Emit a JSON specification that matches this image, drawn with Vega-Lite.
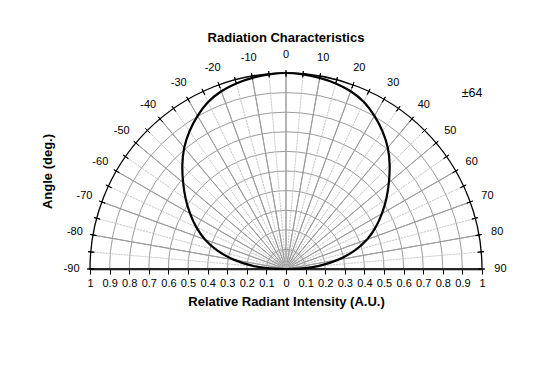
{
  "$schema": "https://vega.github.io/schema/vega-lite/v6.json",
  "width": 392,
  "height": 196,
  "autosize": {"type": "none"},
  "padding": {"left": 90, "top": 73, "right": 77, "bottom": 110},
  "background": "white",
  "config": {"view": {"stroke": null}, "font": "Liberation Sans"},
  "title": {"text": "Radiation Characteristics", "fontSize": 13, "fontWeight": "bold", "font": "Liberation Sans", "color": "black", "offset": 4},
  "datasets": {
    "rings": [{"r": 0.1}, {"r": 0.2}, {"r": 0.3}, {"r": 0.4}, {"r": 0.5}, {"r": 0.6}, {"r": 0.7}, {"r": 0.8}, {"r": 0.9}],
    "spokes": [{"a": -90}, {"a": -80}, {"a": -70}, {"a": -60}, {"a": -50}, {"a": -40}, {"a": -30}, {"a": -20}, {"a": -10}, {"a": 0}, {"a": 10}, {"a": 20}, {"a": 30}, {"a": 40}, {"a": 50}, {"a": 60}, {"a": 70}, {"a": 80}, {"a": 90}],
    "dots": [{"a": -85}, {"a": -75}, {"a": -65}, {"a": -55}, {"a": -45}, {"a": -35}, {"a": -25}, {"a": -15}, {"a": -5}, {"a": 5}, {"a": 15}, {"a": 25}, {"a": 35}, {"a": 45}, {"a": 55}, {"a": 65}, {"a": 75}, {"a": 85}],
    "ticks": [{"a": -90}, {"a": -85}, {"a": -80}, {"a": -75}, {"a": -70}, {"a": -65}, {"a": -60}, {"a": -55}, {"a": -50}, {"a": -45}, {"a": -40}, {"a": -35}, {"a": -30}, {"a": -25}, {"a": -20}, {"a": -15}, {"a": -10}, {"a": -5}, {"a": 0}, {"a": 5}, {"a": 10}, {"a": 15}, {"a": 20}, {"a": 25}, {"a": 30}, {"a": 35}, {"a": 40}, {"a": 45}, {"a": 50}, {"a": 55}, {"a": 60}, {"a": 65}, {"a": 70}, {"a": 75}, {"a": 80}, {"a": 85}, {"a": 90}],
    "labels": [{"a": -90, "t": "-90"}, {"a": -80, "t": "-80"}, {"a": -70, "t": "-70"}, {"a": -60, "t": "-60"}, {"a": -50, "t": "-50"}, {"a": -40, "t": "-40"}, {"a": -30, "t": "-30"}, {"a": -20, "t": "-20"}, {"a": -10, "t": "-10"}, {"a": 0, "t": "0"}, {"a": 10, "t": "10"}, {"a": 20, "t": "20"}, {"a": 30, "t": "30"}, {"a": 40, "t": "40"}, {"a": 50, "t": "50"}, {"a": 60, "t": "60"}, {"a": 70, "t": "70"}, {"a": 80, "t": "80"}, {"a": 90, "t": "90"}],
    "curve": [
      {"a": -90, "r": 0}, {"a": -87.5, "r": 0.1}, {"a": -85, "r": 0.165}, {"a": -80, "r": 0.268}, {"a": -75, "r": 0.362}, {"a": -70, "r": 0.44}, {"a": -65, "r": 0.505}, {"a": -60, "r": 0.565}, {"a": -55, "r": 0.625}, {"a": -50, "r": 0.685}, {"a": -45, "r": 0.748}, {"a": -40, "r": 0.808}, {"a": -35, "r": 0.858}, {"a": -30, "r": 0.902}, {"a": -25, "r": 0.94}, {"a": -20, "r": 0.965}, {"a": -15, "r": 0.98}, {"a": -10, "r": 0.99}, {"a": -5, "r": 0.997}, {"a": 0, "r": 1.0},
      {"a": 5, "r": 0.997}, {"a": 10, "r": 0.99}, {"a": 15, "r": 0.98}, {"a": 20, "r": 0.965}, {"a": 25, "r": 0.94}, {"a": 30, "r": 0.902}, {"a": 35, "r": 0.858}, {"a": 40, "r": 0.808}, {"a": 45, "r": 0.748}, {"a": 50, "r": 0.685}, {"a": 55, "r": 0.625}, {"a": 60, "r": 0.565}, {"a": 65, "r": 0.505}, {"a": 70, "r": 0.44}, {"a": 75, "r": 0.362}, {"a": 80, "r": 0.268}, {"a": 85, "r": 0.165}, {"a": 87.5, "r": 0.1}, {"a": 90, "r": 0}
    ]
  },
  "layer": [
    {
      "data": {"name": "rings"},
      "mark": {"type": "arc", "y": "height", "filled": false, "fill": null, "stroke": "#9c9c9c", "strokeWidth": 1},
      "encoding": {
        "theta": {"datum": -90, "type": "quantitative", "scale": {"type": "linear", "domain": [-90, 90], "range": [-1.5707963267948966, 1.5707963267948966], "zero": false, "nice": false}},
        "theta2": {"datum": 90},
        "radius": {"field": "r", "type": "quantitative", "stack": null, "scale": {"type": "linear", "domain": [0, 1], "range": [0, 196], "zero": true, "nice": false}}
      }
    },
    {
      "data": {"name": "spokes"},
      "mark": {"type": "arc", "y": "height", "filled": false, "fill": null, "stroke": "#9c9c9c", "strokeWidth": 1},
      "encoding": {
        "theta": {"field": "a", "type": "quantitative", "stack": null},
        "theta2": {"field": "a"},
        "radius": {"datum": 1, "type": "quantitative"}
      }
    },
    {
      "data": {"name": "dots"},
      "mark": {"type": "arc", "y": "height", "filled": false, "fill": null, "stroke": "#bdbdbd", "strokeWidth": 1, "strokeDash": [1, 2]},
      "encoding": {
        "theta": {"field": "a", "type": "quantitative", "stack": null},
        "theta2": {"field": "a"},
        "radius": {"datum": 1, "type": "quantitative"}
      }
    },
    {
      "data": {"values": [{"r": 1}]},
      "mark": {"type": "arc", "y": "height", "filled": false, "fill": null, "stroke": "black", "strokeWidth": 1.3},
      "encoding": {
        "theta": {"datum": -90, "type": "quantitative"},
        "theta2": {"datum": 90},
        "radius": {"field": "r", "type": "quantitative", "stack": null}
      }
    },
    {
      "data": {"name": "ticks"},
      "mark": {"type": "arc", "y": "height", "filled": false, "fill": null, "stroke": "black", "strokeWidth": 1},
      "encoding": {
        "theta": {"field": "a", "type": "quantitative", "stack": null},
        "theta2": {"field": "a"},
        "radius": {"datum": 1.014, "type": "quantitative"},
        "radius2": {"datum": 0.982}
      }
    },
    {
      "data": {"name": "curve"},
      "transform": [
        {"calculate": "datum.r * sin(datum.a * PI / 180)", "as": "x"},
        {"calculate": "datum.r * cos(datum.a * PI / 180)", "as": "y"}
      ],
      "mark": {"type": "line", "color": "black", "strokeWidth": 2.2, "interpolate": "catmull-rom"},
      "encoding": {
        "x": {"field": "x", "type": "quantitative", "title": "Relative Radiant Intensity (A.U.)",
          "scale": {"domain": [-1, 1], "nice": false, "zero": false},
          "axis": {"values": [-1, -0.9, -0.8, -0.7, -0.6, -0.5, -0.4, -0.3, -0.2, -0.1, 0, 0.1, 0.2, 0.3, 0.4, 0.5, 0.6, 0.7, 0.8, 0.9, 1],
            "labelExpr": "format(abs(datum.value), '.1~f')", "labelFontSize": 11, "labelFont": "Liberation Sans", "labelColor": "black",
            "labelOverlap": false, "labelFlush": false, "labelBound": false, "labelPadding": 3,
            "tickSize": 5, "tickColor": "black", "domainColor": "black", "domainWidth": 1.5, "grid": false,
            "title": "Relative Radiant Intensity (A.U.)", "titleFontSize": 13, "titleFont": "Liberation Sans", "titleFontWeight": "bold", "titleColor": "black", "titlePadding": 7}},
        "y": {"field": "y", "type": "quantitative", "title": "Angle (deg.)",
          "scale": {"domain": [0, 1], "nice": false, "zero": false},
          "axis": {"labels": false, "ticks": false, "domain": false, "grid": false,
            "title": "Angle (deg.)", "titleFontSize": 13, "titleFont": "Liberation Sans", "titleFontWeight": "bold", "titleColor": "black", "titlePadding": 36}},
        "order": {"field": "a", "type": "quantitative"}
      }
    },
    {
      "data": {"name": "labels"},
      "mark": {"type": "text", "y": "height", "fontSize": 11, "font": "Liberation Sans", "color": "black", "align": "center", "baseline": "middle"},
      "encoding": {
        "theta": {"field": "a", "type": "quantitative", "stack": null},
        "radius": {"datum": 1.094, "type": "quantitative"},
        "text": {"field": "t"}
      }
    },
    {
      "data": {"values": [{"t": "±64"}]},
      "mark": {"type": "text", "fontSize": 12.5, "font": "Liberation Sans", "color": "black", "align": "center", "baseline": "middle"},
      "encoding": {
        "x": {"datum": 0.949, "type": "quantitative", "title": "Relative Radiant Intensity (A.U.)",
          "scale": {"domain": [-1, 1], "nice": false, "zero": false},
          "axis": {"values": [-1, -0.9, -0.8, -0.7, -0.6, -0.5, -0.4, -0.3, -0.2, -0.1, 0, 0.1, 0.2, 0.3, 0.4, 0.5, 0.6, 0.7, 0.8, 0.9, 1],
            "labelExpr": "format(abs(datum.value), '.1~f')", "labelFontSize": 11, "labelFont": "Liberation Sans", "labelColor": "black",
            "labelOverlap": false, "labelFlush": false, "labelBound": false, "labelPadding": 3,
            "tickSize": 5, "tickColor": "black", "domainColor": "black", "domainWidth": 1.5, "grid": false,
            "title": "Relative Radiant Intensity (A.U.)", "titleFontSize": 13, "titleFont": "Liberation Sans", "titleFontWeight": "bold", "titleColor": "black", "titlePadding": 7}},
        "y": {"datum": 0.898, "type": "quantitative", "title": "Angle (deg.)",
          "scale": {"domain": [0, 1], "nice": false, "zero": false},
          "axis": {"labels": false, "ticks": false, "domain": false, "grid": false,
            "title": "Angle (deg.)", "titleFontSize": 13, "titleFont": "Liberation Sans", "titleFontWeight": "bold", "titleColor": "black", "titlePadding": 36}},
        "text": {"field": "t"}
      }
    }
  ]
}
